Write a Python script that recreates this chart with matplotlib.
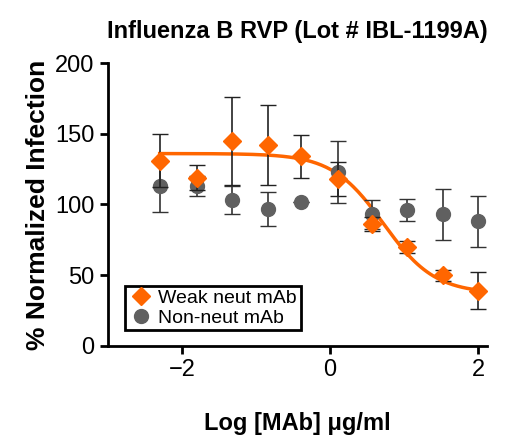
import matplotlib.pyplot as plt
import numpy as np
from matplotlib.lines import Line2D

plt.rcParams['font.family'] = ['Liberation Sans', 'DejaVu Sans']

log_dose = [-2.3, -1.8, -1.32, -0.84, -0.39, 0.11, 0.57, 1.04, 1.53, 2.0]
weak = [131, 119, 145, 142, 134, 118, 86, 70, 50, 39]
weak_err = [19, 9, 31, 28, 15, 12, 5, 4, 4, 13]
non = [113, 113, 103, 97, 102, 123, 93, 96, 93, 88]
non_err = [18, 7, 10, 12, 0, 22, 10, 8, 18, 18]

# four-parameter fit for the weak neut mAb
top, bottom, ec50, hill = 136, 37, 0.72, 1.25

orange = '#ff6600'
gray = '#606060'

fig, ax = plt.subplots(figsize=(5.26, 4.44), dpi=100)
fig.subplots_adjust(left=0.205, right=0.926, bottom=0.221, top=0.858)

xs = np.linspace(-2.3, 2.0, 200)
ax.plot(xs, bottom + (top - bottom) / (1 + 10 ** ((xs - ec50) * hill)), color=orange, lw=2.5, zorder=2)
ax.errorbar(log_dose, non, yerr=non_err, fmt='o', color=gray, ecolor='#333333', ms=10, capsize=6, elinewidth=1.2, zorder=3)
ax.errorbar(log_dose, weak, yerr=weak_err, fmt='D', color=orange, ecolor='#222222', ms=9, capsize=6, elinewidth=1.2, zorder=4)

ax.set_xlim(-3.0, 2.12)
ax.set_ylim(0, 200)
ax.set_xticks([-2, 0, 2])
ax.set_yticks([0, 50, 100, 150, 200])
ax.tick_params(labelsize=17, width=2, length=6)
for s in ['top', 'right']:
    ax.spines[s].set_visible(False)
for s in ['left', 'bottom']:
    ax.spines[s].set_linewidth(2)

ax.set_title('Influenza B RVP (Lot # IBL-1199A)', fontsize=17, fontweight='bold', pad=18)
ax.set_ylabel('% Normalized Infection', fontsize=19, fontweight='bold')
ax.set_xlabel('Log [MAb] \u03bcg/ml', fontsize=17, fontweight='bold', labelpad=22)

handles = [Line2D([], [], marker='D', color=orange, ls='none', ms=9),
           Line2D([], [], marker='o', color=gray, ls='none', ms=10)]
leg = ax.legend(handles, ['Weak neut mAb', 'Non-neut mAb'], loc='lower left', fontsize=14, fancybox=False,
                edgecolor='black', handletextpad=0.3, borderpad=0.2, labelspacing=0.1,
                handlelength=1.2, bbox_to_anchor=(0.02, 0.02), framealpha=1)
leg.get_frame().set_linewidth(2)

fig.savefig('out.png')
